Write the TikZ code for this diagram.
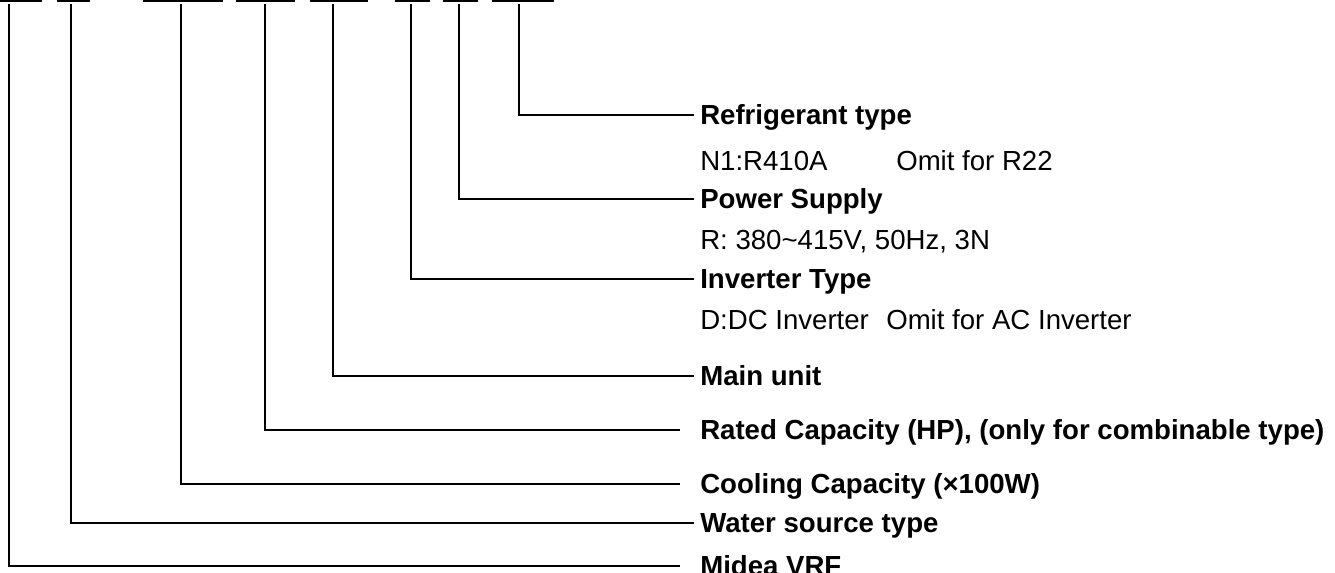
\documentclass[tikz,border=0pt]{standalone}
\usepackage{fontspec}
\setmainfont{Liberation Sans}
\usetikzlibrary{positioning}
\tikzset{
  head/.style={anchor=west,inner sep=0pt,text height=14.8pt,text depth=0pt,font=\fontsize{20.7}{24}\selectfont\bfseries},
  sub/.style={anchor=base west,inner sep=0pt,font=\fontsize{20.7}{24}\selectfont},
  barline/.style={line width=1.6pt,color=black},
  lead/.style={line width=1.5pt,color=black,shorten >=4.5pt},
  leadgap/.style={lead,shorten >=15pt}
}

\begin{document}
\begin{tikzpicture}[x=0.75pt,y=-0.75pt]
  \useasboundingbox (0,0) rectangle (1335,572);

  %% Code digit bars
  \draw[barline] (0,0.8) -- (42,0.8);
  \draw[barline] (56.5,0.8) -- (89.6,0.8);
  \draw[barline] (143,0.8) -- (223,0.8);
  \draw[barline] (236,0.8) -- (295,0.8);
  \draw[barline] (310,0.8) -- (368,0.8);
  \draw[barline] (395,0.8) -- (430,0.8);
  \draw[barline] (443,0.8) -- (478,0.8);
  \draw[barline] (491.5,0.8) -- (554,0.8);

  %% Leader start points
  \coordinate (d1) at (9,4);
  \coordinate (d2) at (71,4);
  \coordinate (d3) at (181,4);
  \coordinate (d4) at (265,4);
  \coordinate (d5) at (333,4);
  \coordinate (d6) at (411,4);
  \coordinate (d7) at (459,4);
  \coordinate (d8) at (519,4);

  %% Labels
  \node[head] (refr) at (700,115) {Refrigerant type};
  \node[sub] (r410) at (700,170) {N1:R410A};
  \node[sub] (omit22) at (896,170) {Omit for R22};
  \node[head] (power) at (700,199) {Power Supply};
  \node[sub] (volt) at (700,249) {R: 380\textasciitilde415V, 50Hz, 3N};
  \node[head] (inv) at (700,279) {Inverter Type};
  \node[sub] (dcinv) at (700,329) {D:DC Inverter};
  \node[sub] (omitac) at (886,329) {Omit for AC Inverter};
  \node[head] (main) at (700,376) {Main unit};
  \node[head] (rated) at (700,430) {Rated Capacity (HP), (only for combinable type)};
  \node[head] (cool) at (700,484) {Cooling Capacity (\texttimes100W)};
  \node[head] (water) at (700,523) {Water source type};
  \node[head] (midea) at (700,566) {Midea VRF};

  %% Leaders
  \draw[leadgap] (d1) |- (midea.west);
  \draw[lead] (d2) |- (water.west);
  \draw[leadgap] (d3) |- (cool.west);
  \draw[leadgap] (d4) |- (rated.west);
  \draw[lead] (d5) |- (main.west);
  \draw[lead] (d6) |- (inv.west);
  \draw[lead] (d7) |- (power.west);
  \draw[lead] (d8) |- (refr.west);
\end{tikzpicture}
\end{document}
